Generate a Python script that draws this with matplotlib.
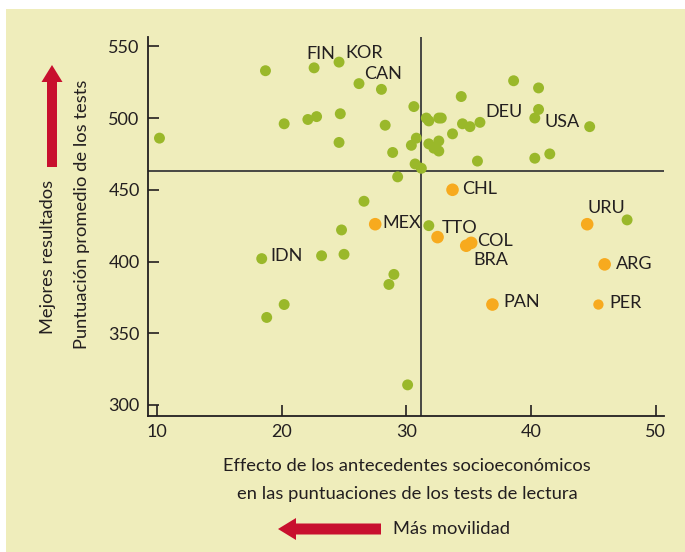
import matplotlib.pyplot as plt
from matplotlib.patches import Rectangle, FancyArrow

plt.rcParams['font.family'] = ['Lato', 'DejaVu Sans']

# other countries (green)
green_x = [18.7, 22.6, 24.6, 26.2, 28.0, 30.6, 31.6, 31.8, 32.6, 20.2, 22.1, 22.8,
           24.7, 28.3, 10.2, 24.6, 30.8, 30.4, 31.8, 32.2, 32.6, 28.9, 30.7, 31.2,
           29.3, 26.6, 34.4, 38.6, 40.6, 40.6, 40.3, 44.7, 32.8, 34.5, 35.1, 35.9,
           33.7, 32.6, 35.7, 40.3, 41.5, 47.7, 31.8, 24.8, 18.4, 23.2, 25.0, 29.0,
           28.6, 20.2, 18.8, 30.1]
green_y = [533, 535, 539, 524, 520, 508, 500, 498, 500, 496, 499, 501,
           503, 495, 486, 483, 486, 481, 482, 479, 484, 476, 468, 465,
           459, 442, 515, 526, 521, 506, 500, 494, 500, 496, 494, 497,
           489, 477, 470, 472, 475, 429, 425, 422, 402, 404, 405, 391,
           384, 370, 361, 314]

# Latin American countries (orange)
orange_x = [27.5, 33.7, 44.5, 32.5, 34.8, 35.2, 45.9, 36.9]
orange_y = [426, 450, 426, 417, 411, 413, 398, 370]
per_x, per_y = [45.4], [370]

labels = ['FIN', 'KOR', 'CAN', 'DEU', 'USA', 'CHL', 'URU', 'MEX', 'IDN',
          'TTO', 'COL', 'BRA', 'ARG', 'PAN', 'PER']
label_x = [22.0, 25.1, 26.6, 36.3, 41.1, 34.5, 44.5, 28.1, 19.1,
           32.8, 35.7, 35.4, 46.8, 37.8, 46.3]
label_y = [544.5, 545.5, 531, 504, 497, 450.5, 437, 427, 403.5,
           423.5, 414, 401, 398, 372, 371]

x_ticks = [10, 20, 30, 40, 50]
y_ticks = [300, 350, 400, 450, 500, 550]
avg_x, avg_y = 31.15, 463

bg = '#efedbb'
green = '#9ab82a'
orange = '#f7aa1e'
red = '#c8102e'
dark = '#231f20'

fig = plt.figure(figsize=(6.85, 5.52), dpi=100)
fig.patch.set_facecolor('white')
fig.patches.append(Rectangle((6 / 685, 0), 1, 1 - 9 / 552, transform=fig.transFigure,
                             facecolor=bg, edgecolor='none', zorder=-10))

ax = fig.add_axes([148 / 685, 1 - 416 / 552, (664 - 148) / 685, (416 - 37) / 552])
ax.set_facecolor('none')
ax.set_xlim(9.28, 50.66)
ax.set_ylim(292.3, 556.5)

ax.axhline(avg_y, color='#3a3a3a', lw=1.3, zorder=1)
ax.axvline(avg_x, color='#3a3a3a', lw=1.3, zorder=1)

ax.scatter(green_x, green_y, s=62, color=green, edgecolors='none', zorder=3)
ax.scatter(orange_x, orange_y, s=82, color=orange, edgecolors='none', zorder=3)
ax.scatter(per_x, per_y, s=55, color=orange, edgecolors='none', zorder=3)

for t, x, y in zip(labels, label_x, label_y):
    ax.text(x, y, t, fontsize=13, color=dark, ha='left', va='center', zorder=4)

for s in ['top', 'right']:
    ax.spines[s].set_visible(False)
for s in ['left', 'bottom']:
    ax.spines[s].set_color(dark)
    ax.spines[s].set_linewidth(1.3)

ax.set_xticks(x_ticks)
ax.set_yticks(y_ticks)
ax.tick_params(direction='in', length=8, width=1.2, color=dark,
               labelsize=13, labelcolor=dark, pad=6)

fig.text(407 / 685, 1 - 466 / 552, 'Effecto de los antecedentes socioeconómicos',
         ha='center', va='center', fontsize=13.2, color=dark)
fig.text(407 / 685, 1 - 494 / 552, 'en las puntuaciones de los tests de lectura',
         ha='center', va='center', fontsize=13.2, color=dark)
fig.text(393 / 685, 1 - 529 / 552, 'Más movilidad',
         ha='left', va='center', fontsize=13.2, color=dark)

fig.text(82 / 685, 1 - 214 / 552, 'Puntuación promedio de los tests', rotation=90,
         ha='center', va='center', fontsize=13.2, color=dark)
fig.text(48 / 685, 1 - 257 / 552, 'Mejores resultados', rotation=90,
         ha='center', va='center', fontsize=13.2, color=dark)

# red arrows drawn in pixel space
pix = fig.dpi_scale_trans
fig.patches.append(FancyArrow(381 / 100, (552 - 529) / 100, -103 / 100, 0,
                              width=11 / 100, head_width=22 / 100, head_length=18 / 100,
                              length_includes_head=True, transform=pix,
                              color=red, lw=0))
fig.patches.append(FancyArrow(52 / 100, (552 - 167) / 100, 0, 102 / 100,
                              width=10 / 100, head_width=21 / 100, head_length=17 / 100,
                              length_includes_head=True, transform=pix,
                              color=red, lw=0))

fig.savefig('out.png', dpi=100, facecolor=fig.get_facecolor())
